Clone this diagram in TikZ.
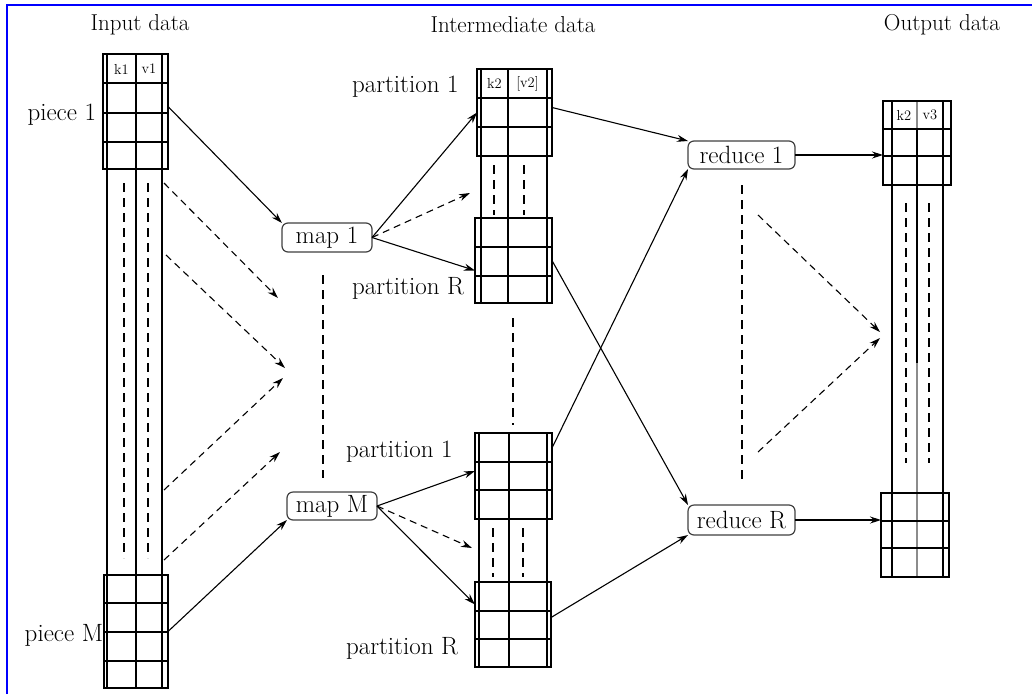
\documentclass[tikz,border=0pt]{standalone}
\usetikzlibrary{arrows.meta,calc}
\begin{document}
\begin{tikzpicture}[x=1pt,y=-1pt,
  every node/.style={inner sep=0pt, outer sep=0pt},
  piecebox/.style={draw, line width=1.3pt, rectangle},
  procbox/.style={draw=black!75, line width=1.2pt, rounded corners=6pt, fill=white, font=\fontsize{25}{28}\selectfont},
  lbl/.style={font=\fontsize{25}{28}\selectfont},
  ttl/.style={font=\fontsize{23}{26}\selectfont},
  hdr/.style={font=\fontsize{14.5}{15}\selectfont},
  gridline/.style={line width=1.3pt},
  vdash/.style={line width=1.3pt, dash pattern=on 9pt off 6pt},
  conn/.style={line width=1.1pt, -{Stealth[length=11pt,width=7pt]}},
  dconn/.style={conn, dash pattern=on 7pt off 5pt},
]
\useasboundingbox (0,0) rectangle (1032,694);
\draw[blue, line width=2pt] (7,694) -- (7,5) -- (1032,5);

% titles
\node[ttl] (tin) at (140,25) {Input data};
\node[ttl] (tmid) at (513,25) {Intermediate data};
\node[ttl] (tout) at (942,25) {Output data};

% ---------- input column ----------
\draw[gridline] (107,54) -- (107,688) (136,54) -- (136,688) (162,54) -- (162,688);
\node[piecebox, minimum width=65pt, minimum height=115pt] (p1) at (135.5,111.5) {};
\draw[gridline] (103,83) -- (168,83) (103,113) -- (168,113) (103,142) -- (168,142);
\node[piecebox, minimum width=64pt, minimum height=113pt] (pM) at (136,631.5) {};
\draw[gridline] (104,603) -- (168,603) (104,632) -- (168,632) (104,661) -- (168,661);
\draw[vdash] (124,183) -- (124,558) (148,183) -- (148,558);
\node[hdr] (k1) at (121.5,69) {k1};
\node[hdr] (v1) at (149,69) {v1};
\node[lbl, anchor=east] (l1) at (96,115) {piece 1};
\node[lbl, anchor=east] (lM) at (103,635) {piece M};

% ---------- map ----------
\node[procbox, minimum width=90pt, minimum height=29pt] (m1) at (327,237.5) {map 1};
\node[procbox, minimum width=90pt, minimum height=28pt] (mM) at (332,506) {map M};
\draw[vdash] (323,275) -- (323,478);

% ---------- intermediate (top) ----------
\draw[gridline] (481,69) -- (481,303) (508,69) -- (508,303) (547,69) -- (547,303);
\node[piecebox, minimum width=75pt, minimum height=87pt] (ip1) at (514.5,112.5) {};
\draw[gridline] (477,98) -- (552,98) (477,127) -- (552,127);
\node[piecebox, minimum width=77pt, minimum height=85pt] (ipR) at (513.5,260.5) {};
\draw[gridline] (475,247) -- (552,247) (475,276) -- (552,276);
\draw[vdash] (494,165) -- (494,215) (524,165) -- (524,215);
\node[hdr] (k2a) at (494.5,83.5) {k2};
\node[hdr] (v2a) at (527.5,83.5) {[v2]};
\node[lbl, anchor=west] (lp1a) at (352,87) {partition 1};
\node[lbl, anchor=west] (lpRa) at (352,288) {partition R};

% ---------- intermediate (bottom) ----------
\draw[gridline] (479,433) -- (479,667) (509,433) -- (509,667) (547,433) -- (547,667);
\node[piecebox, minimum width=77pt, minimum height=86pt] (bp1) at (513.5,476) {};
\draw[gridline] (475,462) -- (552,462) (475,490) -- (552,490);
\node[piecebox, minimum width=76pt, minimum height=85pt] (bpR) at (513,624.5) {};
\draw[gridline] (475,611) -- (551,611) (475,639) -- (551,639);
\draw[vdash] (493,528) -- (493,577) (523,528) -- (523,577);
\node[lbl, anchor=west] (lp1b) at (346,452) {partition 1};
\node[lbl, anchor=west] (lpRb) at (346,648) {partition R};
\draw[vdash] (513,318) -- (513,425);

% ---------- reduce ----------
\node[procbox, minimum width=107pt, minimum height=28pt] (r1) at (741.5,155) {reduce 1};
\node[procbox, minimum width=107pt, minimum height=30pt] (rR) at (741.5,520) {reduce R};
\draw[vdash] (742,185) -- (742,483);

% ---------- output column ----------
\draw[gridline] (892,101) -- (892,577) (943,101) -- (943,577);
\draw[gridline, black!45] (917,101) -- (917,129);
\draw[gridline] (917,129) -- (917,363);
\draw[gridline, black!45] (917,363) -- (917,577);
\node[piecebox, minimum width=68pt, minimum height=84pt] (o1) at (917,143) {};
\draw[gridline] (883,129) -- (951,129) (883,156) -- (951,156);
\node[piecebox, minimum width=68pt, minimum height=84pt] (oR) at (915,535) {};
\draw[gridline] (881,521) -- (949,521) (881,548) -- (949,548);
\draw[vdash] (906,203) -- (906,463) (929,203) -- (929,463);
\node[hdr] (k2o) at (904,115) {k2};
\node[hdr] (v3o) at (930,115) {v3};

% ---------- free coordinates ----------
\coordinate (da1s) at (164,183);
\coordinate (da1e) at (278,298);
\coordinate (da2s) at (166,255);
\coordinate (da2e) at (285,368);
\coordinate (da3s) at (164,490);
\coordinate (da3e) at (283,378);
\coordinate (da4s) at (164,560);
\coordinate (da4e) at (280,452);
\coordinate (mi1) at (470,193);
\coordinate (mi2) at (472,548);
\coordinate (ro1s) at (758,215);
\coordinate (ro1e) at (880,332);
\coordinate (ro2s) at (758,452);
\coordinate (ro2e) at (880,338);

% ---------- connectors ----------
\draw[conn] ($(p1.east)+(0,-5)$) -- (m1.north west);
\draw[conn] (pM.east) -- (mM.south west);
\draw[dconn] (da1s) -- (da1e);
\draw[dconn] (da2s) -- (da2e);
\draw[dconn] (da3s) -- (da3e);
\draw[dconn] (da4s) -- (da4e);

\draw[conn] (m1.east) -- (ip1.west);
\draw[dconn] (m1.east) -- (mi1);
\draw[conn] (m1.east) -- ($(ipR.west)+(0,10)$);
\draw[conn] (mM.east) -- ($(bp1.west)+(0,-5)$);
\draw[dconn] (mM.east) -- (mi2);
\draw[conn] (mM.east) -- ($(bpR.west)+(0,-20)$);

\draw[conn] ($(ip1.east)+(0,-5)$) -- (r1.north west);
\draw[conn] ($(bp1.north east)+(0,15)$) -- (r1.south west);
\draw[conn] (ipR.east) -- (rR.north west);
\draw[conn] ($(bpR.east)+(0,-7)$) -- (rR.south west);

\draw[conn] (r1.east) -- (r1.east -| o1.west);
\draw[conn] (rR.east) -- (rR.east -| oR.west);
\draw[dconn] (ro1s) -- (ro1e);
\draw[dconn] (ro2s) -- (ro2e);
\end{tikzpicture}
\end{document}
